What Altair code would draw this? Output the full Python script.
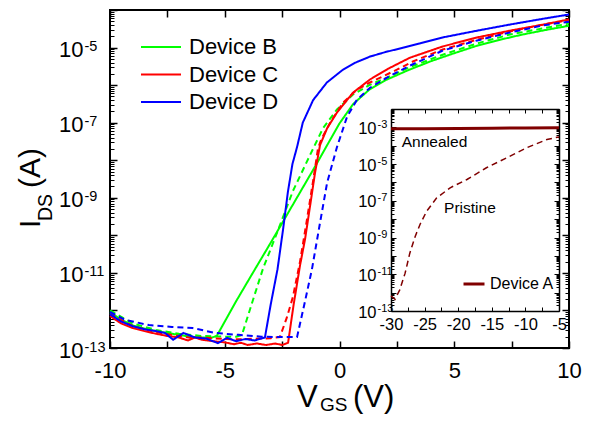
import altair as alt
import pandas as pd

FONT = "Liberation Sans"
W, H = 459, 338

# ---------------- main panel data (V_GS in V, log10 of I_DS in A) ----------------
devices = ["Device B", "Device C", "Device D"]
device_colors = ["#00ff00", "#ff0000", "#0000ff"]
states = ["Annealed", "Pristine"]

B_ann_v = [-10, -9.5, -9, -8.5, -8, -7.5, -7, -6.5, -6, -5.6, -5.35, -4.5, -3.7, -3, -2, -1, -0.4, 0, 0.6,
           1.3, 2, 3, 4, 5, 6, 7, 8, 9, 10]
B_ann_e = [-12.05, -12.25, -12.4, -12.48, -12.55, -12.6, -12.65, -12.7, -12.72, -12.73, -12.68, -11.75, -10.92,
           -10.2, -9.15, -8.1, -7.45, -7.02, -6.5, -6.12, -5.87, -5.6, -5.36, -5.15, -4.95, -4.79, -4.65, -4.53, -4.42]

B_pri_v = [-10, -9, -8, -7, -6, -5, -4.5, -4.25, -3.77, -3.33, -2.72, -2.03, -1.29, -0.72, -0.11, 0.59, 1.33,
           2.07, 3.07, 4.5, 6, 7.43, 8.87, 10]
B_pri_e = [-12.0, -12.35, -12.52, -12.62, -12.68, -12.7, -12.7, -12.65, -11.72, -10.88, -9.93, -8.82, -7.87,
           -7.15, -6.65, -6.25, -5.99, -5.8, -5.52, -5.19, -4.89, -4.65, -4.49, -4.36]

C_ann_v = [-10, -9.5, -9, -8.5, -8, -7.5, -7, -6.6, -6.3, -6, -5.5, -5, -4.6, -4.3, -4, -3.6, -3.2, -2.8, -2.5,
           -2.24, -2, -1.72, -1.5, -1.29, -1.07, -0.85, -0.54, -0.11, 0.59, 1.33, 2.1, 3.07, 4.5, 6, 7.43, 8.87, 10]
C_ann_e = [-12.15, -12.35, -12.47, -12.55, -12.62, -12.68, -12.72, -12.8, -12.72, -12.78, -12.82, -12.85, -12.9,
           -12.86, -12.92, -12.88, -12.92, -12.88, -12.92, -12.86, -11.85, -10.8, -10.1, -9.25, -8.35, -7.6, -7.15,
           -6.73, -6.2, -5.85, -5.57, -5.27, -4.97, -4.73, -4.55, -4.39, -4.25]

C_pri_v = [-10, -9, -8, -7, -6.5, -6, -5.5, -5, -4.5, -4, -3.5, -3, -2.6, -2.3, -2.03, -1.72, -1.45, -1.15, -0.94,
           -0.8, -0.41, 0.15, 0.76, 1.33, 2.5, 3.2, 4.5, 6, 7.43, 8.87, 10]
C_pri_e = [-12.1, -12.42, -12.58, -12.68, -12.73, -12.72, -12.74, -12.76, -12.77, -12.76, -12.75, -12.74, -12.71,
           -12.2, -11.64, -10.7, -9.7, -8.55, -7.7, -7.45, -7.0, -6.47, -6.12, -5.93, -5.59, -5.37, -5.05, -4.79,
           -4.57, -4.39, -4.27]

D_ann_v = [-10, -9.5, -9, -8.5, -8, -7.6, -7.25, -6.8, -6.3, -5.8, -5.3, -4.9, -4.5, -4.1, -3.7, -3.25, -3.0, -2.7,
           -2.45, -2.25, -2.05, -1.85, -1.6, -1.15, -0.55, 0.15, 0.7, 1.33, 2.0, 2.8, 3.5, 4.5, 6.0, 7.4, 8.9, 10]
D_ann_e = [-12.1, -12.3, -12.42, -12.5, -12.55, -12.6, -12.78, -12.6, -12.72, -12.75, -12.87, -12.73, -12.82,
           -12.76, -12.8, -12.72, -11.85, -10.9, -9.8, -8.85, -8.1, -7.65, -7.0, -6.4, -5.93, -5.59, -5.4, -5.24,
           -5.12, -5.0, -4.89, -4.73, -4.55, -4.39, -4.23, -4.12]

D_pri_v = [-10, -9.35, -8.3, -7.3, -6.4, -5.4, -4.4, -3.4, -2.5, -1.85, -1.5, -1.2, -0.85, -0.54, -0.11, 0.33,
           0.76, 1.33, 2.07, 3.07, 4.5, 6.0, 7.43, 8.87, 10]
D_pri_e = [-12.04, -12.25, -12.39, -12.44, -12.47, -12.6, -12.65, -12.7, -12.71, -12.71, -11.75, -10.9, -9.67,
           -8.6, -7.65, -6.84, -6.39, -6.07, -5.8, -5.48, -5.08, -4.81, -4.6, -4.41, -4.31]

# ---------------- inset data (Device A) ----------------
inset_device = ["Device A"]
inset_color = ["#800000"]
A_ann_v = [-30, -25, -20, -15, -10, -5]
A_ann_e = [-3.08, -3.07, -3.06, -3.05, -3.03, -3.02]
A_pri_v = [-30, -29.4, -28.7, -27.9, -27.2, -26.4, -25.7, -24.7, -23.2, -21.2, -18.7, -15.8, -12.8, -9.8, -6.8, -5]
A_pri_e = [-12.18, -12.36, -11.85, -10.94, -9.85, -8.94, -8.3, -7.57, -6.84, -6.29, -5.84, -5.2, -4.66, -4.11,
           -3.66, -3.52]
note_text = ["Annealed", "Pristine"]
note_v = [-28.4, -22.1]
note_e = [-3.77, -7.37]

# ---------------- ticks ----------------
x_ticks_main = [-10, -7.5, -5, -2.5, 0, 2.5, 5, 7.5, 10]
decades_main = [10.0 ** e for e in range(-13, -3)]
minor_main = [k * 10.0 ** e for e in range(-13, -4) for k in range(2, 10)]
labelled_main = [10.0 ** e for e in range(-13, -4, 2)]

x_ticks_in = [-30, -27.5, -25, -22.5, -20, -17.5, -15, -12.5, -10, -7.5, -5]
decades_in = [10.0 ** e for e in range(-13, -1)]
minor_in = [k * 10.0 ** e for e in range(-13, -2) for k in range(2, 10)]
labelled_in = [10.0 ** e for e in range(-13, -2, 2)]

# titles
x_title = ["V", "GS", "(V)"]
y_title = ["I", "DS", "(A)"]

# ---------------- frames ----------------
series = [("Device B", "Annealed", B_ann_v, B_ann_e), ("Device B", "Pristine", B_pri_v, B_pri_e),
          ("Device C", "Annealed", C_ann_v, C_ann_e), ("Device C", "Pristine", C_pri_v, C_pri_e),
          ("Device D", "Annealed", D_ann_v, D_ann_e), ("Device D", "Pristine", D_pri_v, D_pri_e)]
main_df = pd.concat([pd.DataFrame({"device": d, "state": s, "V": v, "I": [10.0 ** x for x in e]})
                     for d, s, v, e in series], ignore_index=True)
ann_df = pd.DataFrame({"device": inset_device[0], "V": A_ann_v, "I": [10.0 ** x for x in A_ann_e]})
pri_df = pd.DataFrame({"V": A_pri_v, "I": [10.0 ** x for x in A_pri_e]})
note_df = pd.DataFrame({"label": note_text, "V": note_v, "I": [10.0 ** x for x in note_e]})

EXP = "round(log(datum.value) / LN10)"
TEN_ODD = "abs(" + EXP + ") % 2 == 1 ? '10' : ''"
EXP_TXT = "'' + " + EXP
XLAB = "datum.value % 5 == 0 ? '' + datum.value : ''"


def axis(orient, values, tick=0, tw=1.0, **kw):
    p = dict(orient=orient, values=values, title=None, grid=False, domain=False, labels=False,
             labelFont=FONT, labelColor="black", tickColor="black", domainColor="black",
             labelOverlap=False, labelFlush=False, labelBound=False)
    if tick:
        p.update(ticks=True, tickSize={"expr": str(-tick)}, tickWidth=tw)
    else:
        p.update(ticks=False)
    p.update(kw)
    return alt.Axis(**p)


def ghost(df, x, y):
    return alt.Chart(df).mark_point(opacity=0, size=1).encode(x=x, y=y)


def txt(s, x, y, size, angle=0):
    return alt.Chart(pd.DataFrame({"t": [s]})).mark_text(
        align="left", baseline="alphabetic", font=FONT, fontSize=size, angle=angle, color="black"
    ).encode(x=alt.value(x), y=alt.value(y), text="t:N")


# ---------------- main panel ----------------
xs_main = alt.Scale(domain=[-10, 10], nice=False, zero=False)
ys_main = alt.Scale(type="log", domain=[1e-13, 1e-4], nice=False)


def xm(ax):
    return alt.X("V:Q", scale=xs_main, axis=ax)


def ym(ax):
    return alt.Y("I:Q", scale=ys_main, axis=ax)


lines = alt.Chart(main_df).mark_line(strokeWidth=2).encode(
    x=xm(axis("bottom", x_ticks_main, 7, 1.5, labels=True, labelExpr=XLAB, labelFontSize=22, labelPadding=19.5)),
    y=ym(axis("left", decades_main, 7, 1.5, labels=True, labelExpr=TEN_ODD, labelFontSize=22, labelPadding=34,
              labelAlign="right", labelBaseline="middle", labelOffset=2)),
    color=alt.Color("device:N", scale=alt.Scale(domain=devices, range=device_colors),
                    legend=alt.Legend(title=None, orient="none", legendX=30, legendY=26, symbolType="stroke",
                                      symbolSize=1600, symbolStrokeWidth=2, labelFontSize=22, labelFont=FONT,
                                      labelColor="black", labelOffset=7, rowPadding=5.5, clipHeight=22,
                                      padding=0)),
    strokeDash=alt.StrokeDash("state:N", scale=alt.Scale(domain=states, range=[[1, 0], [6, 4]]), legend=None),
)
mirror_m = ghost(main_df, xm(axis("top", x_ticks_main, 7, 1.5)), ym(axis("right", decades_main, 7, 1.5)))
minorl_m = ghost(main_df, xm(None), ym(axis("left", minor_main, 4, 1)))
minorr_m = ghost(main_df, xm(None), ym(axis("right", minor_main, 4, 1)))
exp_m = ghost(main_df, xm(None), ym(axis("left", labelled_main, 0, labels=True, labelExpr=EXP_TXT,
                                         labelFontSize=14.5, labelPadding=26, labelAlign="left",
                                         labelBaseline="middle", labelOffset=-1)))
titles = [txt(x_title[0], 187, 397, 31), txt(x_title[1], 210, 401, 19), txt(x_title[2], 243, 397, 31),
          txt(y_title[0], -70, 218, 30, 270), txt(y_title[1], -58, 211, 19.5, 270),
          txt(y_title[2], -70, 178, 30, 270)]

main = alt.layer(lines, mirror_m, minorl_m, minorr_m, exp_m, *titles).resolve_axis(x="independent", y="independent")

# ---------------- inset ----------------
IN_X = [281, 449]
IN_Y = [301, 99]
xs_in = alt.Scale(domain=[-30, -5], nice=False, zero=False, range=IN_X)
ys_in = alt.Scale(type="log", domain=[1e-13, 1e-2], nice=False, range=IN_Y)


def xi(ax):
    return alt.X("V:Q", scale=xs_in, axis=ax)


def yi(ax):
    return alt.Y("I:Q", scale=ys_in, axis=ax)


DOM = dict(domain=True, domainWidth=1.5)
in_solid = alt.Chart(ann_df).mark_line(strokeWidth=3).encode(
    x=xi(axis("bottom", x_ticks_in, 4, 1, offset=IN_Y[0] - H, labels=True, labelExpr=XLAB,
              labelFontSize=16.5, labelPadding=9, **DOM)),
    y=yi(axis("left", decades_in, 5, 1, offset=-IN_X[0], labels=True, labelExpr=TEN_ODD, labelFontSize=16.5,
              labelPadding=20, labelAlign="right", labelBaseline="middle", labelOffset=1, **DOM)),
    color=alt.Color("device:N", scale=alt.Scale(domain=inset_device, range=inset_color),
                    legend=alt.Legend(title=None, orient="none", legendX=352, legendY=266, symbolType="stroke",
                                      symbolSize=441, symbolStrokeWidth=3, labelFontSize=16, labelFont=FONT,
                                      labelColor="black", labelOffset=4, clipHeight=16, padding=0)),
)
in_dash = alt.Chart(pri_df).mark_line(strokeWidth=1.5, strokeDash=[6, 4], color=inset_color[0]).encode(
    x=xi(None), y=yi(None))
mirror_i = ghost(ann_df, xi(axis("top", x_ticks_in, 4, 1, offset=-IN_Y[1], **DOM)),
                 yi(axis("right", decades_in, 5, 1, offset=IN_X[1] - W, **DOM)))
minorl_i = ghost(ann_df, xi(None), yi(axis("left", minor_in, 3, 1, offset=-IN_X[0])))
minorr_i = ghost(ann_df, xi(None), yi(axis("right", minor_in, 3, 1, offset=IN_X[1] - W)))
exp_i = ghost(ann_df, xi(None), yi(axis("left", labelled_in, 0, offset=-IN_X[0], labels=True, labelExpr=EXP_TXT,
                                        labelFontSize=11, labelPadding=14, labelAlign="left",
                                        labelBaseline="middle", labelOffset=-3)))
notes = alt.Chart(note_df).mark_text(align="left", baseline="middle", font=FONT, fontSize=15.5, color="black").encode(
    x=xi(None), y=yi(None), text="label:N")

inset = alt.layer(in_solid, in_dash, mirror_i, minorl_i, minorr_i, exp_i, notes).resolve_axis(
    x="independent", y="independent")

chart = alt.layer(main, inset).resolve_scale(
    x="independent", y="independent", color="independent"
).properties(
    width=W, height=H,
    padding={"left": 102, "top": 2, "right": 16, "bottom": 67},
    autosize=alt.AutoSizeParams(type="none"),
).configure_view(stroke="black", strokeWidth=2)

chart.save("out.html", embed_options={"renderer": "svg", "actions": False})
